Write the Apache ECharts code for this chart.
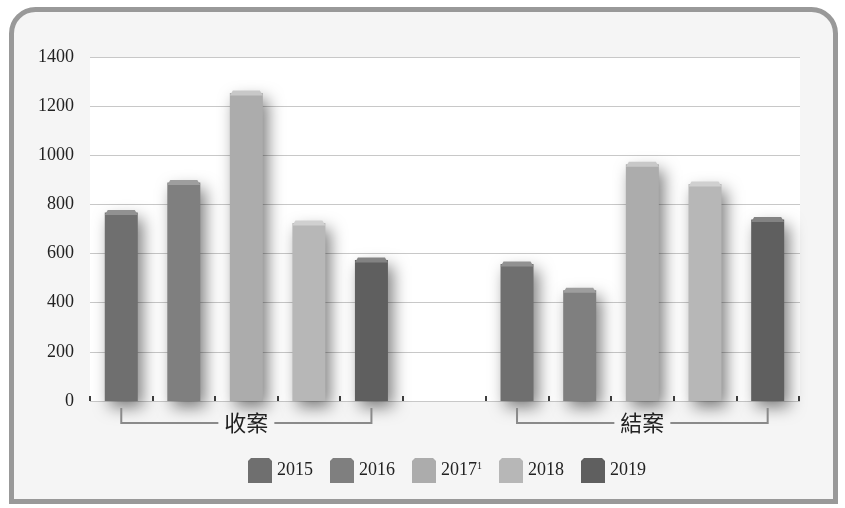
<!DOCTYPE html>
<html>
<head>
<meta charset="utf-8">
<script src="https://cdn.jsdelivr.net/npm/echarts@6/dist/echarts.min.js"></script>
<style>
html,body{margin:0;padding:0;background:#fff;}
#c{width:845px;height:508px;}
</style>
</head>
<body>
<div id="c"></div>
<script>
const groups = ['收案', '結案'];
const years = ['2015', '2016', '2017', '2018', '2019'];
const received = [767, 889, 1253, 724, 574];
const closed = [558, 451, 964, 883, 739];
const yMin = 0, yMax = 1400, yStep = 200;

const colors = ['#6f6f6f', '#7f7f7f', '#acacac', '#b7b7b7', '#5f5f5f'];
const capColors = ['#919191', '#9e9e9e', '#c8c8c8', '#d0d0d0', '#838383'];
const values = [received, closed];

const serif = '"Liberation Serif", "DejaVu Serif", serif';
const cjk = '"Noto Sans CJK TC", "Noto Sans CJK SC", sans-serif';

const chart = echarts.init(document.getElementById('c'), null, {renderer: 'canvas'});

const series = [];
values.forEach((vals, g) => {
  years.forEach((y, i) => {
    series.push({
      type: 'bar',
      name: y,
      xAxisIndex: g + 1,
      yAxisIndex: g + 1,
      stack: 'g' + g,
      barWidth: 33,
      color: colors[i],
      itemStyle: {
        color: colors[i],
        shadowBlur: 16,
        shadowColor: 'rgba(0,0,0,0.5)',
        shadowOffsetX: 5,
        shadowOffsetY: 6
      },
      emphasis: {disabled: true},
      data: years.map((yy, j) => (j === i ? vals[i] : '-'))
    });
  });
  series.push({
    type: 'pictorialBar',
    name: 'cap' + g,
    xAxisIndex: g + 1,
    yAxisIndex: g + 1,
    symbol: 'path://M0,5 L3,0 L30,0 L33,5 Z',
    symbolSize: [33, 5],
    symbolPosition: 'end',
    symbolOffset: [0, '-50%'],
    z: 3,
    silent: true,
    data: vals.map((v, i) => ({value: v, itemStyle: {color: capColors[i]}}))
  });
});

const hiddenY = (idx) => ({
  type: 'value', gridIndex: idx, min: yMin, max: yMax, interval: yStep,
  show: false, splitLine: {show: false}
});
const barX = (idx) => ({
  type: 'category', gridIndex: idx, data: years,
  axisLine: {show: false},
  axisLabel: {show: false},
  axisTick: {show: true, inside: true, length: 5, lineStyle: {color: '#000', width: 1.5}},
  splitLine: {show: false}
});

const frame = {
  type: 'rect',
  z: -10,
  shape: {x: 11.5, y: 9.5, width: 824, height: 492, r: [24, 24, 0, 0]},
  style: {fill: '#f5f5f5', stroke: '#999', lineWidth: 5}
};

chart.setOption({
  animation: false,
  backgroundColor: 'transparent',
  graphic: [frame],
  grid: [
    {left: 90, right: 45, top: 57, bottom: 107, show: true, backgroundColor: '#fff', borderWidth: 0, outerBoundsMode: 'none'},
    {left: 90, width: 312.7, top: 57, bottom: 107, outerBoundsMode: 'none'},
    {left: 485.7, width: 313.3, top: 57, bottom: 107, outerBoundsMode: 'none'}
  ],
  xAxis: [
    {type: 'category', gridIndex: 0, data: [''], show: false},
    barX(1),
    barX(2)
  ],
  yAxis: [
    {
      type: 'value', gridIndex: 0, min: yMin, max: yMax, interval: yStep,
      axisLine: {show: false}, axisTick: {show: false},
      axisLabel: {color: '#222', fontFamily: serif, fontSize: 18, margin: 16, formatter: (v) => String(v)},
      splitLine: {lineStyle: {color: '#c8c8c8', width: 1}}
    },
    hiddenY(1),
    hiddenY(2)
  ],
  legend: {
    data: years,
    left: 243,
    top: 453,
    itemWidth: 24,
    itemHeight: 25,
    itemGap: 17,
    icon: 'path://M3,0 L21,0 L24,3 L24,25 L0,25 L0,3 Z',
    selectedMode: false,
    formatter: (name) => (name === '2017' ? '2017{s|1}' : name),
    textStyle: {
      color: '#222', fontFamily: serif, fontSize: 18,
      rich: {s: {fontFamily: serif, fontSize: 10, color: '#222', padding: [0, 0, 9, 0]}}
    }
  },
  series: series
});

// group brackets and labels computed from the category axes
const extra = [];
groups.forEach((label, g) => {
  const x1 = chart.convertToPixel({xAxisIndex: g + 1}, 0);
  const x2 = chart.convertToPixel({xAxisIndex: g + 1}, years.length - 1);
  const yAxis0 = chart.convertToPixel({yAxisIndex: g + 1}, 0);
  const top = yAxis0 + 7, lineY = yAxis0 + 22;
  const mid = (x1 + x2) / 2;
  const half = 28;
  extra.push({
    type: 'polyline', z: 5,
    shape: {points: [[x1, top], [x1, lineY], [mid - half, lineY]]},
    style: {stroke: '#8a8a8a', lineWidth: 2, fill: null}
  });
  extra.push({
    type: 'polyline', z: 5,
    shape: {points: [[mid + half, lineY], [x2, lineY], [x2, top]]},
    style: {stroke: '#8a8a8a', lineWidth: 2, fill: null}
  });
  extra.push({
    type: 'text', z: 6,
    x: mid, y: lineY,
    style: {text: label, fill: '#222', font: '22px ' + cjk, align: 'center', verticalAlign: 'middle'}
  });
});
chart.setOption({graphic: [frame].concat(extra)}, {replaceMerge: ['graphic']});
</script>
</body>
</html>
